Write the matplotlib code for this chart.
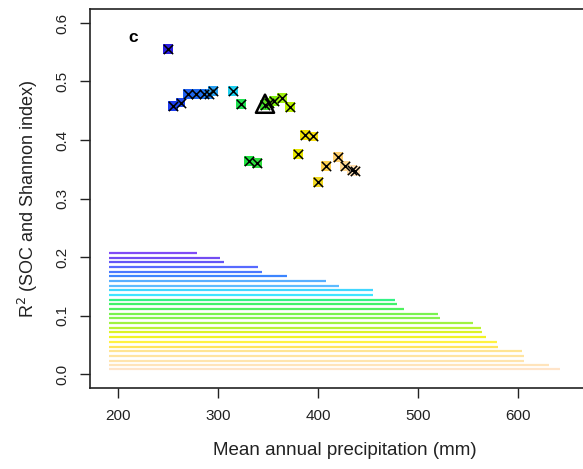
import matplotlib
matplotlib.use("Agg")
import matplotlib.pyplot as plt

plt.rcParams['font.family'] = ['Liberation Sans', 'DejaVu Sans']

# site points: mean annual precipitation vs R2
precip = [249.7, 254.7, 262.5, 270.3, 278.0, 285.5, 290.5, 295.3, 314.7, 323.0,
          331.0, 339.0, 347.0, 351.0, 356.0, 363.7, 372.0, 379.7, 387.0, 394.7,
          400.0, 408.0, 420.0, 427.0, 433.7, 437.0]
r2 = [0.556, 0.458, 0.464, 0.478, 0.478, 0.478, 0.478, 0.484, 0.484, 0.461,
      0.364, 0.361, 0.460, 0.463, 0.467, 0.472, 0.457, 0.376, 0.408, 0.406,
      0.328, 0.356, 0.371, 0.356, 0.349, 0.347]
point_colors = ['#2b1fe0', '#1e3cf0', '#1e48f0', '#1e60f0', '#1e68f0', '#1e70f0',
                '#2080f0', '#2aa0f0', '#20d0f0', '#20e050', '#20e040', '#30e040',
                '#40e030', '#60e020', '#80f010', '#a0f010', '#b8f000', '#e8e800',
                '#f0e000', '#f8e010', '#f0d820', '#ffd050', '#ffd070', '#ffd890',
                '#ffdca8', '#ffe0b8']

# mean point (triangle)
mean_x = [347.0]
mean_y = [0.462]

# horizontal bars
bar_y = [0.207, 0.199, 0.191, 0.183, 0.175, 0.167, 0.159, 0.151, 0.143, 0.135,
         0.127, 0.119, 0.111, 0.103, 0.095, 0.087, 0.079, 0.071, 0.063, 0.055,
         0.047, 0.039, 0.031, 0.023, 0.015, 0.008]
bar_start = 191
bar_end = [279, 302, 306, 340, 344, 369, 408, 421, 455, 455,
           477, 479, 486, 520, 522, 555, 563, 564, 568, 579,
           580, 604, 606, 606, 631, 642]
bar_colors = ['#6a2cf5', '#5a2cf0', '#4a38f5', '#3a50ff', '#2a60ff', '#1a70ff',
              '#3aa0ff', '#40b0ff', '#20d0ff', '#20e0ff', '#10f070', '#20f050',
              '#30f040', '#60f030', '#70f030', '#90f020', '#b0f010', '#d8f000',
              '#f0f000', '#fff020', '#ffe040', '#ffe080', '#ffe090', '#ffe0a0',
              '#ffe0b0', '#ffe0c0']

fig = plt.figure(figsize=(5.83, 4.69), dpi=100)
ax = fig.add_axes([90 / 583, 81 / 469, 510 / 583, 379 / 469])

for y, x1, c in zip(bar_y, bar_end, bar_colors):
    ax.plot([bar_start, x1], [y, y], color=c, lw=1.6, alpha=0.85, solid_capstyle='butt')

ax.scatter(precip, r2, s=50, marker='s', c=point_colors, edgecolors='none', zorder=3)
ax.scatter(precip, r2, s=45, marker='x', c='black', linewidths=1.1, zorder=4)
ax.scatter(mean_x, mean_y, s=170, marker='^', facecolors='none', edgecolors='black',
           linewidths=1.8, zorder=5)

ax.text(215, 0.576, 'c', fontsize=12.5, fontweight='bold', ha='center', va='center')

ax.set_xlim(172, 682)
ax.set_ylim(-0.0239, 0.6239)
ax.set_xticks([200, 300, 400, 500, 600])
ax.set_yticks([0.0, 0.1, 0.2, 0.3, 0.4, 0.5, 0.6])
ax.set_yticklabels(['0.0', '0.1', '0.2', '0.3', '0.4', '0.5', '0.6'], rotation=90, va='center')
ax.tick_params(direction='out', length=7, width=1, labelsize=11, pad=8,
               colors='#222222', labelcolor='#222222')
for s in ax.spines.values():
    s.set_linewidth(1.2)
    s.set_color('#222222')

ax.set_xlabel('Mean annual precipitation (mm)', fontsize=13.5, labelpad=14, color='#222222')
ax.set_ylabel('R$^2$ (SOC and Shannon index)', fontsize=13, labelpad=11, color='#222222')

fig.savefig('out.png', dpi=100)
